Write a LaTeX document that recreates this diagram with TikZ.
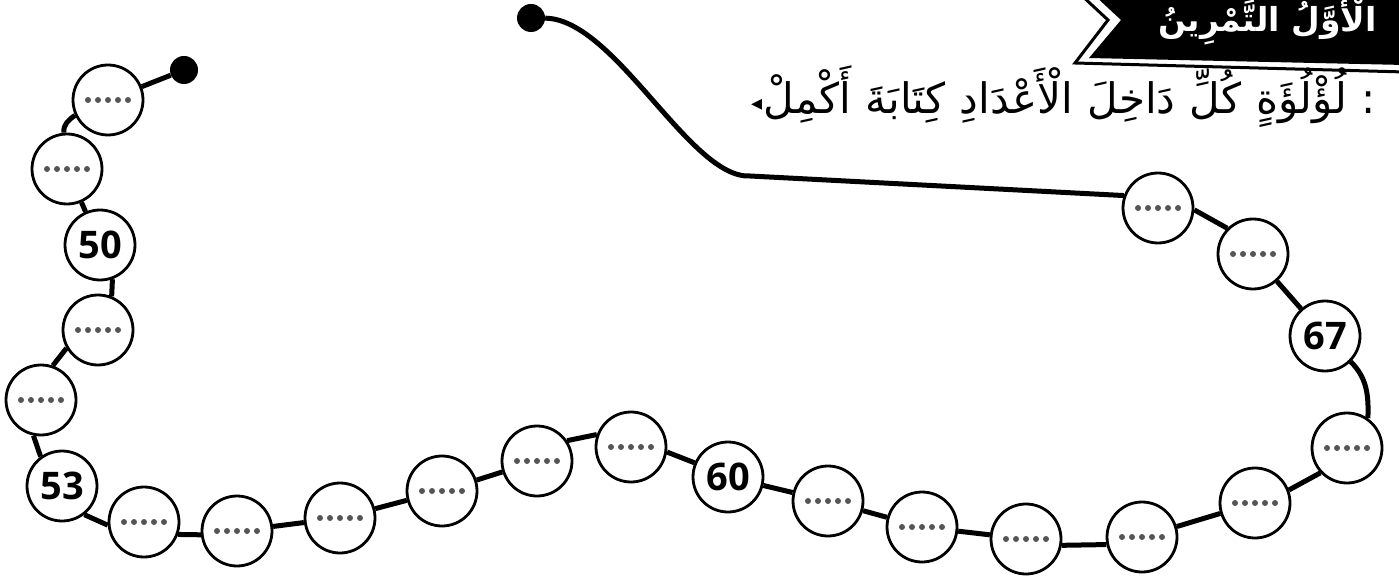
\documentclass[tikz,border=0pt]{standalone}
\usepackage{fontspec}
\newfontfamily\arabicfont[Script=Arabic]{DejaVu Sans}
\newfontfamily\numfont{Open Sans}
\definecolor{dotgray}{RGB}{85,85,85}
\begin{document}
\begin{tikzpicture}[x=1pt,y=1pt,
  bead/.style={circle,draw,line width=2.8pt,fill=white,minimum size=70pt,inner sep=0pt},
  blank/.style={bead,path picture={\foreach \i in {-2,...,2}{\fill[dotgray] ([xshift=\i*10pt]path picture bounding box.center) circle[radius=3pt];}}},
  num/.style={bead,font=\numfont\bfseries\fontsize{38}{40}\selectfont},
  stringline/.style={line width=5pt},
  enddot/.style={circle,fill=black,minimum size=28pt,inner sep=0pt},
  word/.style={anchor=base west,inner sep=0pt,font=\arabicfont\fontsize{42}{46}\selectfont},
  titleword/.style={anchor=base west,inner sep=0pt,text=white,font=\arabicfont\bfseries\fontsize{33}{36}\selectfont}]
\useasboundingbox (0,0) rectangle (1399,579);
% banner
\draw[line width=3pt,line join=miter] (1080,585) -- (1108,559) -- (1075,516) -- (1405,507);
\fill[black] (1093,585) -- (1121,559) -- (1089,521) -- (1405,514) -- (1405,585) -- cycle;
\node[titleword] (t1) at (1158,547) {التَّمْرِينُ};
\node[titleword] (t2) at ([xshift=11pt]t1.base east) {الْأَوَّلُ};
% instruction (words placed left to right as printed)
\node[word,font=\arabicfont\fontsize{22}{22}\selectfont] (w0) at (751,468) {◂};
\node[word] (w1) at ([xshift=1pt]w0.base east |- 0,465) {أَكْمِلْ};
\node[word] (w2) at ([xshift=14pt]w1.base east) {كِتَابَةَ};
\node[word] (w3) at ([xshift=14pt]w2.base east) {الْأَعْدَادِ};
\node[word] (w4) at ([xshift=14pt]w3.base east) {دَاخِلَ};
\node[word] (w5) at ([xshift=14pt]w4.base east) {كُلِّ};
\node[word] (w6) at ([xshift=14pt]w5.base east) {لُؤْلُؤَةٍ};
\node[word] (w7) at ([xshift=14pt]w6.base east) {:};
% end dots
\node[enddot] (d1) at (184,509) {};
\node[enddot] (d2) at (531,561) {};
% beads
\node[blank] (c1) at (108,479) {};
\node[blank] (c2) at (67,410) {};
\node[num]   (c3) at (100,334) {50};
\node[blank] (c4) at (98,249) {};
\node[blank] (c5) at (41,179) {};
\node[num]   (c6) at (62,93) {53};
\node[blank] (c7) at (144,57) {};
\node[blank] (c8) at (237,48) {};
\node[blank] (c9) at (340,61) {};
\node[blank] (c10) at (442,88) {};
\node[blank] (c11) at (537,118) {};
\node[blank] (c12) at (631,132) {};
\node[num]   (c13) at (728,102) {60};
\node[blank] (c14) at (828,78) {};
\node[blank] (c15) at (922,52) {};
\node[blank] (c16) at (1026,40) {};
\node[blank] (c17) at (1142,42) {};
\node[blank] (c18) at (1255,76) {};
\node[blank] (c19) at (1347,131) {};
\node[num]   (c20) at (1325,243) {67};
\node[blank] (c21) at (1253,325) {};
\node[blank] (c22) at (1158,371) {};
\coordinate (k) at (750,403);
% connectors
\draw[stringline] (d1) -- (c1);
\draw[stringline] (c1.205) to[out=215,in=95] (c2.95);
\draw[stringline] (c2) -- (c3);
\draw[stringline] (c3.-70) -- (c4.68);
\draw[stringline] (c4.210) -- (c5.71);
\draw[stringline] (c5.258) -- (c6.126);
\draw[stringline] (c6.-52) -- (c7.185);
\draw[stringline] (c7.-20) -- (c8.186);
\draw[stringline] (c8) -- (c9);
\draw[stringline] (c9) -- (c10);
\draw[stringline] (c10) -- (c11);
\draw[stringline] (c11.34) -- (c12.160);
\draw[stringline] (c12.-8) -- (c13.157);
\draw[stringline] (c13) -- (c14);
\draw[stringline] (c14) -- (c15);
\draw[stringline] (c15) -- (c16);
\draw[stringline] (c16.-10) -- (c17.192);
\draw[stringline] (c17) -- (c18);
\draw[stringline] (c18.21) -- (c19.223);
\draw[stringline] (c19.55) to[out=88,in=-45] (c20.-45);
\draw[stringline] (c20) -- (c21);
\draw[stringline] (c21.135) -- (c22.-3);
\draw[stringline] (c22.160) -- (k) .. controls (690,400) and (615,560) .. (d2);
\end{tikzpicture}
\end{document}
